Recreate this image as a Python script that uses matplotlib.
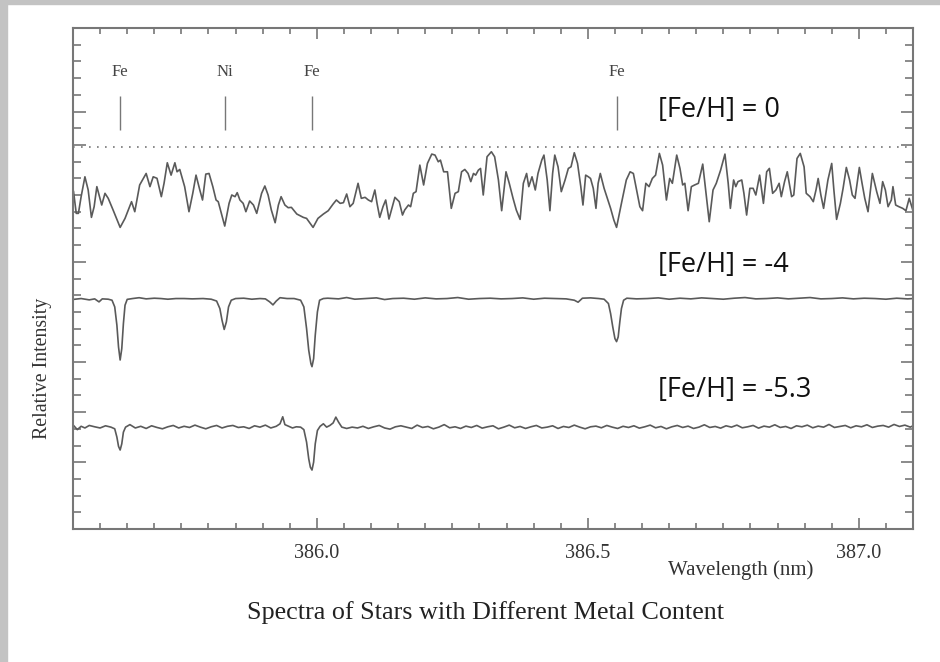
import numpy as np
import matplotlib
matplotlib.use("Agg")
from matplotlib import pyplot as plt
from matplotlib.patches import Rectangle

# ---- data (wavelength in nm, intensity in tick units) ----
wl_solar = [385.551, 385.556, 385.560, 385.565, 385.572, 385.578, 385.584, 385.589, 385.594, 385.598,
            385.603, 385.609, 385.615, 385.624, 385.637, 385.646, 385.658, 385.664, 385.673, 385.685,
            385.692, 385.698, 385.705, 385.713, 385.718, 385.724, 385.731, 385.738, 385.742, 385.747,
            385.756, 385.764, 385.771, 385.777, 385.784, 385.789, 385.795, 385.801, 385.808, 385.814,
            385.818, 385.830, 385.838, 385.843, 385.849, 385.853, 385.858, 385.864, 385.869, 385.876,
            385.883, 385.889, 385.898, 385.904, 385.910, 385.916, 385.923, 385.929, 385.934, 385.941,
            385.947, 385.953, 385.963, 385.975, 385.981, 385.993, 386.002, 386.012, 386.021, 386.030,
            386.036, 386.043, 386.049, 386.055, 386.061, 386.067, 386.076, 386.082, 386.089, 386.095,
            386.101, 386.107, 386.111, 386.116, 386.122, 386.127, 386.133, 386.140, 386.144, 386.152,
            386.158, 386.162, 386.169, 386.173, 386.178, 386.183, 386.190, 386.197, 386.204, 386.212,
            386.218, 386.224, 386.228, 386.234, 386.241, 386.248, 386.255, 386.261, 386.267, 386.273,
            386.279, 386.284, 386.289, 386.293, 386.298, 386.302, 386.307, 386.314, 386.322, 386.328,
            386.335, 386.341, 386.349, 386.355, 386.362, 386.368, 386.375, 386.381, 386.387, 386.391,
            386.397, 386.403, 386.408, 386.415, 386.419, 386.425, 386.430, 386.435, 386.439, 386.445,
            386.451, 386.458, 386.464, 386.469, 386.475, 386.481, 386.487, 386.491, 386.496, 386.501,
            386.505, 386.510, 386.515, 386.519, 386.523, 386.530, 386.536, 386.542, 386.548, 386.553,
            386.562, 386.571, 386.578, 386.584, 386.590, 386.596, 386.601, 386.607, 386.613, 386.619,
            386.625, 386.632, 386.638, 386.645, 386.651, 386.656, 386.664, 386.670, 386.675, 386.679,
            386.685, 386.691, 386.697, 386.704, 386.712, 386.718, 386.724, 386.731, 386.737, 386.745,
            386.753, 386.759, 386.763, 386.769, 386.773, 386.777, 386.784, 386.788, 386.793, 386.799,
            386.805, 386.810, 386.817, 386.824, 386.830, 386.835, 386.841, 386.847, 386.853, 386.857,
            386.863, 386.868, 386.876, 386.880, 386.886, 386.892, 386.899, 386.903, 386.910, 386.916,
            386.921, 386.925, 386.930, 386.935, 386.943, 386.950, 386.954, 386.959, 386.966, 386.971,
            386.977, 386.983, 386.988, 386.993, 387.001, 387.006, 387.011, 387.017, 387.025, 387.033,
            387.039, 387.044, 387.049, 387.054, 387.060, 387.063, 387.068, 387.074, 387.081, 387.087,
            387.093, 387.100]
fl_solar = [20.20, 18.90, 18.90, 19.90, 21.09, 20.30, 18.66, 19.30, 20.50, 20.00,
            19.40, 20.10, 19.80, 19.10, 18.06, 18.60, 19.60, 19.00, 20.60, 21.29,
            20.50, 21.09, 21.00, 19.90, 20.70, 21.93, 21.19, 21.93, 21.39, 21.53,
            20.50, 19.00, 20.10, 21.19, 20.30, 19.70, 21.25, 21.29, 20.50, 19.70,
            19.60, 18.14, 19.50, 20.00, 19.90, 20.14, 19.70, 19.50, 19.00, 19.64,
            19.40, 18.90, 20.10, 20.54, 20.00, 19.10, 18.34, 19.40, 19.90, 19.40,
            19.24, 19.26, 18.86, 18.66, 18.60, 18.06, 18.60, 18.86, 19.06, 19.46,
            19.70, 19.50, 19.54, 20.06, 19.30, 19.50, 20.70, 19.80, 19.86, 19.70,
            19.60, 20.30, 19.50, 18.66, 19.30, 19.70, 18.56, 19.40, 19.86, 19.60,
            18.80, 19.10, 19.40, 19.30, 20.10, 20.20, 21.79, 20.60, 21.89, 22.45,
            22.39, 21.99, 22.09, 21.39, 21.39, 19.20, 20.10, 20.20, 21.39, 21.53,
            21.29, 20.80, 21.29, 21.19, 21.49, 21.59, 20.00, 22.29, 22.59, 22.29,
            20.90, 19.06, 21.39, 20.70, 19.80, 19.10, 18.54, 20.70, 21.29, 20.50,
            21.09, 20.30, 21.29, 22.09, 22.39, 20.90, 19.06, 21.29, 22.39, 21.69,
            20.20, 20.90, 21.59, 21.69, 22.53, 21.89, 20.50, 19.40, 21.19, 21.09,
            20.99, 20.40, 19.20, 20.70, 21.29, 20.40, 19.80, 19.20, 18.50, 18.06,
            19.50, 20.90, 21.39, 21.29, 20.30, 19.30, 19.06, 20.70, 20.50, 20.99,
            21.19, 22.49, 21.79, 19.70, 20.99, 20.70, 22.39, 21.59, 20.60, 20.70,
            19.06, 20.50, 20.60, 20.70, 21.85, 20.10, 18.40, 20.30, 20.70, 21.49,
            22.45, 20.70, 19.20, 20.90, 20.50, 20.80, 20.90, 20.10, 18.80, 20.40,
            20.40, 20.00, 21.19, 19.50, 21.39, 21.59, 20.10, 20.30, 20.70, 19.90,
            20.80, 21.39, 19.90, 20.00, 22.19, 22.49, 21.69, 20.10, 19.90, 19.60,
            20.30, 20.99, 20.00, 19.20, 20.90, 21.89, 20.30, 18.54, 19.50, 20.40,
            21.65, 20.90, 20.00, 19.80, 21.65, 20.70, 19.80, 19.00, 21.29, 20.20,
            19.50, 20.80, 20.30, 19.30, 19.70, 20.50, 19.40, 19.30, 19.20, 19.06,
            19.80, 19.06]

wl_m4 = [385.551, 385.565, 385.580, 385.590, 385.598, 385.604, 385.615, 385.622, 385.627, 385.631,
         385.634, 385.637, 385.640, 385.643, 385.646, 385.650, 385.660, 385.672, 385.685, 385.700,
         385.712, 385.725, 385.740, 385.755, 385.770, 385.790, 385.805, 385.815, 385.821, 385.825,
         385.829, 385.833, 385.837, 385.842, 385.850, 385.865, 385.880, 385.895, 385.905, 385.913,
         385.919, 385.925, 385.932, 385.945, 385.958, 385.970, 385.976, 385.981, 385.985, 385.989,
         385.991, 385.994, 385.997, 386.001, 386.005, 386.012, 386.020, 386.040, 386.055, 386.070,
         386.090, 386.110, 386.125, 386.140, 386.160, 386.180, 386.200, 386.220, 386.240, 386.260,
         386.280, 386.300, 386.320, 386.340, 386.360, 386.380, 386.400, 386.420, 386.440, 386.460,
         386.475, 386.482, 386.490, 386.505, 386.520, 386.530, 386.538, 386.542, 386.546, 386.550,
         386.553, 386.556, 386.559, 386.562, 386.566, 386.572, 386.590, 386.610, 386.630, 386.650,
         386.670, 386.690, 386.710, 386.730, 386.750, 386.770, 386.790, 386.810, 386.830, 386.850,
         386.870, 386.890, 386.910, 386.930, 386.950, 386.970, 386.990, 387.010, 387.030, 387.050,
         387.070, 387.090, 387.100]
fl_m4 = [13.75, 13.80, 13.72, 13.78, 13.60, 13.78, 13.76, 13.70, 13.30, 12.20,
         10.90, 10.12, 10.80, 12.30, 13.40, 13.75, 13.80, 13.85, 13.78, 13.82,
         13.80, 13.76, 13.80, 13.80, 13.78, 13.80, 13.76, 13.65, 13.20, 12.50,
         11.95, 12.40, 13.30, 13.70, 13.80, 13.82, 13.76, 13.80, 13.78, 13.60,
         13.42, 13.65, 13.85, 13.80, 13.80, 13.70, 13.30, 12.00, 10.70, 9.90,
         9.72, 10.20, 11.60, 13.00, 13.70, 13.80, 13.82, 13.78, 13.86, 13.76,
         13.80, 13.84, 13.74, 13.80, 13.82, 13.76, 13.84, 13.78, 13.80, 13.86,
         13.76, 13.80, 13.82, 13.78, 13.80, 13.84, 13.76, 13.82, 13.80, 13.78,
         13.70, 13.58, 13.82, 13.84, 13.80, 13.76, 13.50, 12.90, 12.10, 11.40,
         11.22, 11.50, 12.40, 13.20, 13.70, 13.82, 13.78, 13.80, 13.84, 13.76,
         13.82, 13.78, 13.84, 13.80, 13.76, 13.82, 13.86, 13.78, 13.80, 13.84,
         13.78, 13.82, 13.86, 13.78, 13.80, 13.84, 13.78, 13.82, 13.80, 13.76,
         13.82, 13.78, 13.80]

wl_m53 = [385.551, 385.558, 385.565, 385.572, 385.580, 385.590, 385.600, 385.610, 385.620, 385.627,
          385.631, 385.634, 385.637, 385.640, 385.643, 385.647, 385.655, 385.665, 385.675, 385.685,
          385.695, 385.705, 385.715, 385.725, 385.735, 385.745, 385.755, 385.765, 385.775, 385.785,
          385.795, 385.805, 385.815, 385.825, 385.835, 385.845, 385.855, 385.865, 385.875, 385.885,
          385.895, 385.905, 385.915, 385.925, 385.932, 385.937, 385.941, 385.948, 385.955, 385.962,
          385.970, 385.976, 385.981, 385.985, 385.988, 385.991, 385.994, 385.997, 386.001, 386.006,
          386.012, 386.018, 386.024, 386.030, 386.035, 386.040, 386.046, 386.055, 386.065, 386.075,
          386.085, 386.095, 386.105, 386.115, 386.125, 386.135, 386.145, 386.155, 386.165, 386.175,
          386.185, 386.195, 386.205, 386.215, 386.225, 386.235, 386.245, 386.255, 386.265, 386.275,
          386.285, 386.295, 386.305, 386.315, 386.325, 386.335, 386.345, 386.355, 386.365, 386.375,
          386.385, 386.395, 386.405, 386.415, 386.425, 386.435, 386.445, 386.455, 386.465, 386.475,
          386.485, 386.495, 386.505, 386.515, 386.525, 386.535, 386.545, 386.555, 386.565, 386.575,
          386.585, 386.595, 386.605, 386.615, 386.625, 386.635, 386.645, 386.655, 386.665, 386.675,
          386.685, 386.695, 386.705, 386.715, 386.725, 386.735, 386.745, 386.755, 386.765, 386.775,
          386.785, 386.795, 386.805, 386.815, 386.825, 386.835, 386.845, 386.855, 386.865, 386.875,
          386.885, 386.895, 386.905, 386.915, 386.925, 386.935, 386.945, 386.955, 386.965, 386.975,
          386.985, 386.995, 387.005, 387.015, 387.025, 387.035, 387.045, 387.055, 387.065, 387.075,
          387.085, 387.095, 387.100]
fl_m53 = [6.20, 5.95, 6.15, 6.05, 6.20, 6.12, 6.05, 6.18, 6.10, 6.00,
          5.50, 4.95, 4.73, 5.10, 5.80, 6.10, 6.25, 6.05, 6.15, 6.02,
          6.18, 6.08, 6.00, 6.12, 6.20, 6.05, 6.15, 6.08, 6.22, 6.10,
          6.00, 6.12, 6.20, 6.05, 6.15, 6.20, 6.08, 6.12, 6.02, 6.18,
          6.10, 6.22, 6.05, 6.15, 6.30, 6.72, 6.25, 6.15, 6.05, 6.12,
          6.10, 5.95, 5.20, 4.20, 3.70, 3.53, 4.00, 5.10, 5.90, 6.15,
          6.30, 6.10, 6.20, 6.35, 6.70, 6.40, 6.10, 6.02, 6.10, 6.05,
          6.15, 6.02, 6.12, 6.20, 6.05, 5.98, 6.12, 6.18, 6.10, 6.02,
          6.22, 6.08, 6.14, 6.00, 6.10, 6.25, 6.06, 6.12, 6.02, 6.16,
          6.08, 6.20, 6.04, 6.12, 6.18, 6.00, 6.10, 6.22, 6.06, 6.14,
          6.02, 6.12, 6.20, 6.05, 6.10, 6.18, 6.02, 6.14, 6.08, 6.22,
          6.10, 6.00, 6.12, 6.16, 6.06, 6.20, 6.10, 6.02, 6.15, 6.08,
          6.18, 6.04, 6.12, 6.22, 6.06, 6.14, 6.00, 6.12, 6.20, 6.08,
          6.16, 6.02, 6.10, 6.24, 6.08, 6.14, 6.04, 6.18, 6.10, 6.22,
          6.06, 6.12, 6.20, 6.04, 6.16, 6.10, 6.24, 6.08, 6.14, 6.02,
          6.18, 6.12, 6.22, 6.06, 6.16, 6.10, 6.26, 6.08, 6.14, 6.20,
          6.06, 6.18, 6.12, 6.24, 6.08, 6.16, 6.20, 6.10, 6.26, 6.14,
          6.22, 6.10, 6.18]

solar_continuum = 22.9
line_wl = [385.637, 385.830, 385.991, 386.553]
line_names = ["Fe", "Ni", "Fe", "Fe"]
panel_labels = ["[Fe/H] = 0", "[Fe/H] = -4", "[Fe/H] = -5.3"]
panel_label_y = [25.1, 15.8, 8.3]

major_x = [386.0, 386.5, 387.0]
minor_x = np.round(np.arange(385.55, 387.11, 0.05), 2)
major_y = [4, 7, 10, 16, 23, 25]
minor_y = [v for v in range(1, 30) if v not in major_y]

# ---- figure ----
fig = plt.figure(figsize=(9.4, 6.62), dpi=100)
fig.patches.append(Rectangle((0, 0), 7 / 940, 1, transform=fig.transFigure,
                             color="#c3c3c3", zorder=0))
fig.patches.append(Rectangle((0, 1 - 4 / 662), 1, 4 / 662, transform=fig.transFigure,
                             color="#c3c3c3", zorder=0))

ax = fig.add_axes([73 / 940, 133 / 662, 840 / 940, 501 / 662])
ax.set_xlim(385.55, 387.10)
ax.set_ylim(0, 30)

spec_col = "#5a5a5a"
for w, f in [(wl_solar, fl_solar), (wl_m4, fl_m4), (wl_m53, fl_m53)]:
    ax.plot(w, f, color=spec_col, lw=1.2, solid_joinstyle="round")
ax.axhline(solar_continuum, color="#777777", lw=1.2, ls=(0, (1, 3.8)))

ax.vlines(line_wl, 23.9, 25.9, color="#777777", lw=1.0)
for w, n in zip(line_wl, line_names):
    ax.text(w, 27.35, n, ha="center", va="center", fontsize=12,
            family="Liberation Serif", color="#444444")

for lab, y in zip(panel_labels, panel_label_y):
    ax.text(386.63, y, lab, ha="left", va="center", fontsize=19.5,
            family="Open Sans", color="#111111")

for s in ax.spines.values():
    s.set_color("#777777")
    s.set_linewidth(1.5)

ax.set_xticks(major_x)
ax.set_xticks([v for v in minor_x if v not in major_x], minor=True)
ax.set_xticklabels(["386.0", "386.5", "387.0"])
ax.set_yticks(major_y)
ax.set_yticks(minor_y, minor=True)
ax.set_yticklabels([])
ax.tick_params(which="both", direction="in", top=True, right=True,
               color="#777777", width=1.2)
ax.tick_params(axis="x", which="major", length=8, pad=11, labelsize=14.5,
               labelcolor="#333333")
ax.tick_params(axis="x", which="minor", length=4.5)
ax.tick_params(axis="y", which="major", length=9)
ax.tick_params(axis="y", which="minor", length=5.5)
for t in ax.get_xticklabels():
    t.set_family("Liberation Serif")

fig.text(42 / 940, 1 - 368 / 662, "Relative Intensity", rotation=90,
         ha="center", va="center", fontsize=14.3, family="Liberation Serif",
         color="#333333")
fig.text(741 / 940, 1 - 570 / 662, "Wavelength (nm)", ha="center", va="center",
         fontsize=15, family="Liberation Serif", color="#333333")
fig.text(486 / 940, 1 - 613 / 662, "Spectra of Stars with Different Metal Content",
         ha="center", va="center", fontsize=18.8, family="Liberation Serif",
         color="#222222")

fig.savefig("out.png", dpi=100)
